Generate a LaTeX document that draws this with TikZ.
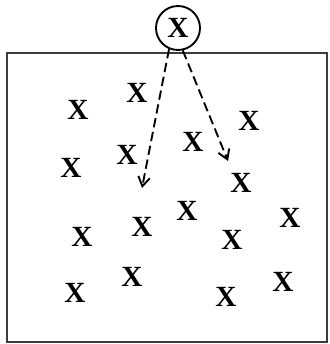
\documentclass[tikz,border=0pt]{standalone}
\usepackage{fontspec}
\setmainfont{Liberation Serif}
\usetikzlibrary{arrows.meta}
\definecolor{framegray}{RGB}{60, 60, 60}

\tikzset{
  xmark/.style={inner sep=0pt, font=\fontsize{25}{25}\bfseries\selectfont},
  srcmark/.style={circle, draw, line width=1.6pt, fill=white, minimum size=1.32cm, inner sep=0pt,
    font=\fontsize{25}{25}\bfseries\selectfont},
  pick/.style={line width=1.6pt, dash pattern=on 8pt off 4pt, -{Straight Barb[length=8pt, width=10pt]}}
}

\begin{document}
\begin{tikzpicture}[x=0.03cm, y=-0.03cm]
  \useasboundingbox (0,0) rectangle (329,344);
  % sample frame
  \draw[draw=framegray, line width=1.6pt] (7,53) rectangle (327,342);
  % population points
  \foreach \px/\py [count=\i] in {78/110, 137/93, 249/121, 193/142, 127/155, 71/168,
      241/183, 187/211, 142/227, 82/237, 290/218, 232/240, 132/277, 75/293, 226/297, 283/282}
    \node[xmark] (x\i) at (\px,\py) {X};
  % drawn element
  \node[srcmark] (src) at (178,28) {X};
  \coordinate (hitA) at (142,188);
  \coordinate (hitB) at (228,161);
  \draw[pick] (src.247) -- (hitA);
  \draw[pick] (src.282) -- (hitB);
\end{tikzpicture}
\end{document}
